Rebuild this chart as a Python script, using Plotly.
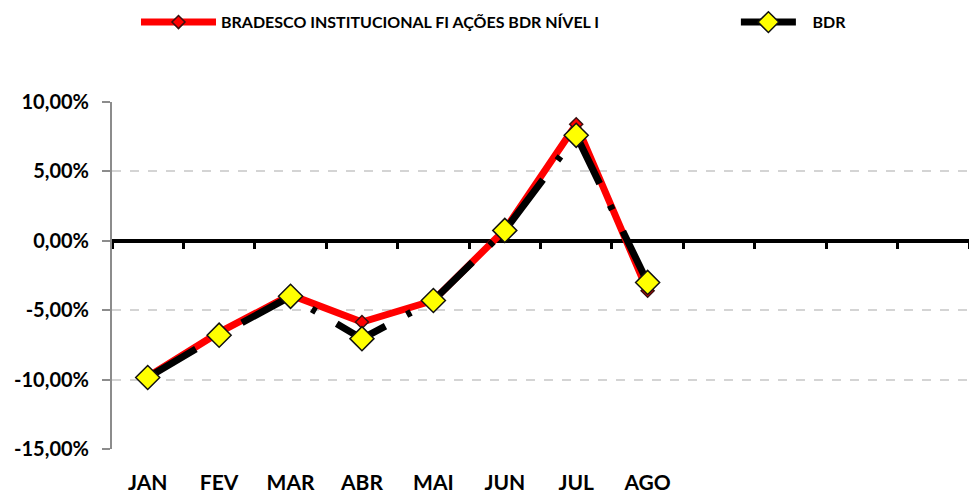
import plotly.graph_objects as go

# Monthly returns (%)
months = ["JAN", "FEV", "MAR", "ABR", "MAI", "JUN", "JUL", "AGO"]
fund_returns = [-9.8, -6.6, -3.9, -5.85, -4.3, 0.8, 8.4, -3.6]
bdr_returns = [-9.85, -6.8, -4.0, -7.05, -4.3, 0.75, 7.6, -3.0]

n_slots = 12  # the axis leaves room for a full year
y_ticks = [10, 5, 0, -5, -10, -15]
y_tick_text = ["10,00%", "5,00%", "0,00%", "-5,00%", "-10,00%", "-15,00%"]

font_family = "Lato, 'Open Sans', sans-serif"
x_pos = list(range(1, len(months) + 1))

fig = go.Figure()

fig.add_trace(go.Scatter(
    x=x_pos, y=fund_returns, name="BRADESCO INSTITUCIONAL FI AÇÕES BDR NÍVEL I",
    mode="lines+markers", legend="legend",
    line=dict(color="#ff0000", width=7),
    marker=dict(symbol="diamond", size=10, color="#ff0000",
                line=dict(color="#3a1010", width=1.5)),
))

fig.add_trace(go.Scatter(
    x=x_pos, y=bdr_returns, name="\u00a0\u00a0\u00a0BDR",
    mode="lines+markers", legend="legend2",
    line=dict(color="#000000", width=7, dash="56px,24px,5px,24px"),
    marker=dict(symbol="diamond", size=18.5, color="#ffff00",
                line=dict(color="#111111", width=1.5)),
))

# carrier for the zero-line axis with its category-boundary ticks
fig.add_trace(go.Scatter(
    x=[1], y=[0], xaxis="x2", mode="markers",
    marker=dict(opacity=0), showlegend=False, hoverinfo="skip",
))

legend_font = dict(size=16, family=font_family, weight="bold")

fig.update_layout(
    width=969, height=495,
    margin=dict(l=112, r=0, t=102, b=46),
    paper_bgcolor="white", plot_bgcolor="white",
    font=dict(family=font_family, color="black"),
    showlegend=True,
    legend=dict(
        orientation="h", x=0.028, y=1.23, xanchor="left", yanchor="middle",
        font=legend_font, itemwidth=75, bgcolor="rgba(0,0,0,0)",
    ),
    legend2=dict(
        orientation="h", x=0.728, y=1.23, xanchor="left", yanchor="middle",
        font=legend_font, itemwidth=55, bgcolor="rgba(0,0,0,0)",
    ),
    xaxis=dict(
        range=[0.5, n_slots + 0.5],
        tickvals=x_pos, ticktext=months,
        showgrid=False, zeroline=False, showline=False, ticks="",
        tickfont=dict(size=21, family=font_family, weight="bold"),
        ticklabelstandoff=19, automargin=False,
    ),
    xaxis2=dict(
        overlaying="x", anchor="free", position=0.6,
        range=[0.5, n_slots + 0.5],
        tickvals=[i + 0.5 for i in range(0, n_slots + 1)],
        showticklabels=False, showgrid=False, zeroline=False,
        showline=True, linecolor="black", linewidth=4,
        ticks="outside", ticklen=6, tickwidth=3, tickcolor="black",
        layer="below traces",
    ),
    yaxis=dict(
        range=[-15, 10],
        tickvals=y_ticks, ticktext=y_tick_text,
        showgrid=True, gridcolor="#d4d4d4", gridwidth=1.5, griddash="dash",
        zeroline=False,
        showline=True, linecolor="#8c8c8c", linewidth=2,
        ticks="outside", ticklen=8, tickwidth=2, tickcolor="#8c8c8c",
        tickfont=dict(size=20, family=font_family, weight="bold"),
        ticklabelstandoff=9, automargin=False,
    ),
)

fig.write_html("out.html")
